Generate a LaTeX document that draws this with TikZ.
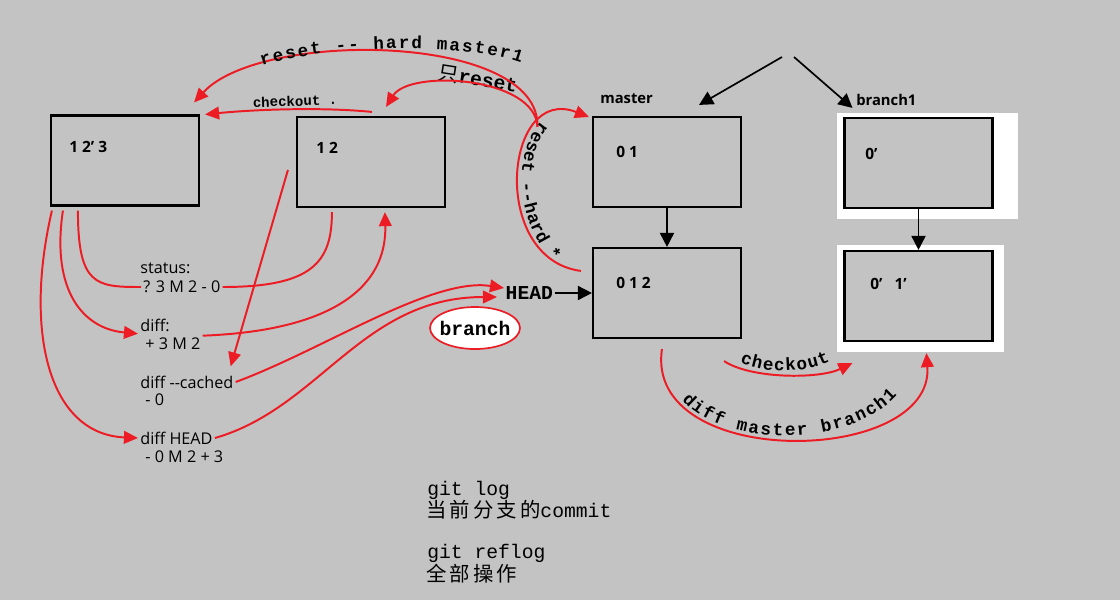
\documentclass[tikz,border=0pt]{standalone}
\usepackage{fontspec}
\setmainfont{Open Sans}
\newfontfamily\monofont{Liberation Mono}
\newfontfamily\cjk[LetterSpace=15]{Noto Sans CJK SC}
\usetikzlibrary{arrows.meta,calc,decorations.text,shapes.geometric}
\definecolor{paintred}{RGB}{237,28,36}
\definecolor{paintgray}{RGB}{195,195,195}
\newcommand{\arcfont}{\monofont\bfseries\fontsize{12.5}{15}\selectfont}
\newcommand{\bigmono}{\monofont\fontsize{14}{16}\selectfont}
\newcommand{\cjkfont}{\cjk\fontsize{14.5}{16}\selectfont}
\tikzset{
    commit/.style={draw,fill=paintgray,line width=1.5pt,minimum width=3.7cm,minimum height=2.25cm},
    num/.style={anchor=west,inner sep=0pt,font=\bfseries\fontsize{11}{13}\selectfont},
    cmd/.style={anchor=west,inner sep=1.5pt,font=\fontsize{11.5}{13}\selectfont},
    redline/.style={paintred,line width=1.4pt},
    redarr/.style={redline,-{Triangle[length=10pt,width=9pt]}},
    blackarr/.style={line width=1.2pt,-{Triangle[length=10pt,width=10pt]}},
    arctext/.style={decorate,decoration={text along path,text align={fit to path},text={|\arcfont|#1}}},
}
\begin{document}
\begin{tikzpicture}[x=0.025cm,y=-0.025cm]
    \fill[paintgray] (0,0) rectangle (1120,600);
    \useasboundingbox (0,0) rectangle (1120,600);
    \fill[white] (837,113) rectangle (1018,219);
    \fill[white] (837,245) rectangle (1004,352);

    \node[commit] (a) at (125,160.5) {};
    \node[commit] (b) at (371,162) {};
    \node[commit] (m1) at (667,162) {};
    \node[commit] (m2) at (667,293) {};
    \node[commit] (b1) at (918.5,163) {};
    \node[commit] (b2) at (918.5,296) {};
    \node[num] (na) at (69,147) {1 2' 3};
    \node[num] (nb) at (316,148) {1 2};
    \node[num] (nm1) at (616,152) {0 1};
    \node[num] (nm2) at (616,283) {0 1 2};
    \node[num] (nb1) at (865,154) {0’};
    \node[num] (nb2) at (870,284) {0’\ \ \ 1’};
    \node[anchor=west,inner sep=0pt,font=\bfseries\fontsize{10.5}{12}\selectfont] (lm) at (600,99) {master};
    \node[anchor=west,inner sep=0pt,font=\bfseries\fontsize{10.5}{12}\selectfont] (lb) at (856,100) {branch1};

    \node[cmd] (st1) at (138,268) {status:};
    \node[cmd] (st2) at (141,287) {? 3 M 2 - 0};
    \node[cmd] (df1) at (138,325) {diff:};
    \node[cmd] (df2) at (143,344) {+ 3 M 2};
    \node[cmd] (dc1) at (138,382) {diff -{}-cached};
    \node[cmd] (dc2) at (143,400) {- 0};
    \node[cmd] (dh1) at (138,438) {diff HEAD};
    \node[cmd] (dh2) at (143,457) {- 0 M 2 + 3};

    \node[anchor=west,inner sep=1pt,font=\bigmono\bfseries] (head) at (504,293) {HEAD};
    \node[ellipse,draw=paintred,fill=white,line width=1.2pt,minimum width=2.25cm,minimum height=1.05cm,inner sep=0pt,font=\bigmono\bfseries] (br) at (475,328) {\makebox[0pt]{branch}};

    \node[rotate=2,inner sep=0pt,font=\monofont\bfseries\fontsize{10}{12}\selectfont] (co) at (295,101) {checkout .};
    \node[rotate=-9,inner sep=0pt] (only) at (478,79) {\cjkfont 只{\bigmono\bfseries reset}};

    \node[anchor=west,inner sep=0pt,font=\bigmono] (log1) at (427,490) {git log};
    \node[anchor=west,inner sep=0pt] (log2) at (426,510) {\cjkfont 当前分支的{\bigmono commit}};
    \node[anchor=west,inner sep=0pt,font=\bigmono] (rlog1) at (427,553) {git reflog};
    \node[anchor=west,inner sep=0pt] (rlog2) at (426,574) {\cjkfont 全部操作};

    \coordinate (tp1) at (782,57);
    \coordinate (tp2) at (794,57);
    \draw[blackarr] (tp1) -- ($(m1.north)+(32,-11)$);
    \draw[blackarr] (tp2) -- ($(b1.north)+(-66,-9)$);
    \draw[blackarr] (m1.south) -- (m2.north);
    \draw[blackarr] (b1.south) -- (b2.north);
    \draw[blackarr] (head.east) -- (head.east -| m2.west);

    \draw[redline] ($(a.south west)+(28,4)$) .. controls +(0,75) and +(-45,0) .. (st2.west);
    \draw[redline] (st2.east) .. controls +(90,0) and +(0,50) .. ($(b.south west)+(36,4)$);
    \draw[redarr] ($(a.south west)+(13,4)$) .. controls +(-12,80) and +(-55,-5) .. (df1.south west);
    \draw[redarr] (df2.north east) .. controls +(130,-5) and +(2,75) .. ($(b.south west)+(89,4)$);
    \draw[redarr] ($(b.west)+(-8,8)$) -- ($(dc1.north east)+(-5,-7)$);
    \draw[redarr] (dc1.east) .. controls +(87,-32) and +(-72,-11) .. ($(head.west)+(0,-5)$);
    \draw[redarr] ($(a.south west)+(2,4)$) .. controls +(-28,120) and +(-90,-4) .. (dh1.west);
    \draw[redarr] (dh1.east) .. controls +(105,-30) and +(-135,0) .. ($(head.west)+(-7,4)$);

    \draw[redarr] ($(b.north)+(1,-4)$) .. controls +(-50,-5) and +(50,-5) .. ($(a.north east)+(5,0)$);
    \draw[redarr] ($(m2.north west)+(-11,24)$) .. controls +(-92,-12) and +(-85,-33) .. ($(m1.north west)+(-3,1)$) coordinate[pos=0.74] (j);
    \draw[redarr] (j) .. controls +(3,-94) and +(67,-73) .. ($(a.north east)+(-6,-12)$);
    \draw[redarr] (j) .. controls +(-2,-50) and +(24,-38) .. ($(b.north)+(15,-9)$);

    \draw[redarr] ($(m2.south east)+(-18,22)$) .. controls +(27,18) and +(-33,16) .. ($(b2.south west)+(9,21)$);
    \draw[redarr] ($(m2.south west)+(70,10)$) .. controls +(-18,122) and +(8,113) .. ($(b2.south west)+(83,11)$);

    \path[arctext={reset -- hard master1}] (262,66) .. controls (320,46) and (460,41) .. (521,63);
    \path[arctext={reset --hard *}] (541,122) .. controls (515,150) and (512,215) .. (553,262);
    \path[arctext={checkout}] (740,362) .. controls (765,374) and (805,374) .. (830,361);
    \path[arctext={diff master branch1}] (682,400) .. controls (725,448) and (850,448) .. (897,395);
\end{tikzpicture}
\end{document}
